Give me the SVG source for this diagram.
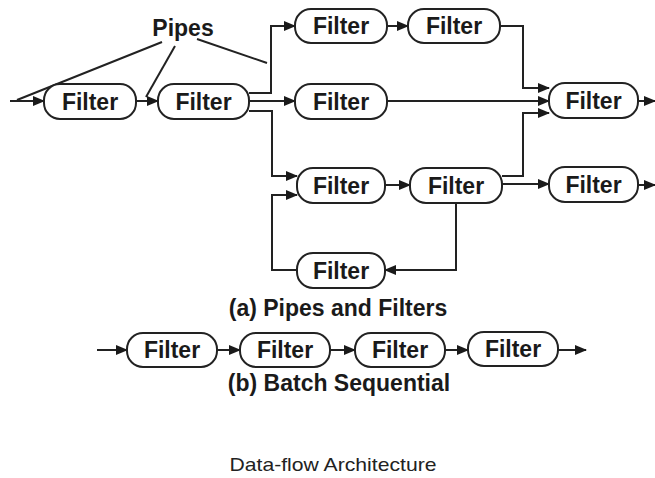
<svg xmlns="http://www.w3.org/2000/svg" width="655" height="478" viewBox="0 0 655 478">
<style>
.box{fill:#fff;stroke:#222;stroke-width:2}
.lbl{font-family:"Liberation Sans",Arial,sans-serif;font-weight:bold;font-size:23px;fill:#1a1a1a;text-anchor:middle;dominant-baseline:central}
.cap{font-family:"Liberation Sans",Arial,sans-serif;font-weight:bold;font-size:23px;fill:#1a1a1a;text-anchor:middle}
.title{font-family:"Liberation Sans",Arial,sans-serif;font-size:19px;fill:#222;text-anchor:middle}
.c{fill:none;stroke:#222;stroke-width:2}
.a{marker-end:url(#ah)}
</style>
<defs>
<marker id="ah" markerUnits="userSpaceOnUse" markerWidth="12" markerHeight="10" refX="11" refY="5" orient="auto">
<path d="M0,0 L12,5 L0,10 Z" fill="#1a1a1a"/>
</marker>
</defs>
<rect width="655" height="478" fill="#fff"/>

<g id="connectors">
<path class="c" d="M162,42 L17,100"/>
<path class="c" d="M175,46 L146,97"/>
<path class="c" d="M197,39 L267,63"/>
<path class="c a" d="M10,101 H44"/>
<path class="c a" d="M136,101 H158"/>
<path class="c a" d="M249,93 H271 V26 H295"/>
<path class="c a" d="M249,101 H295"/>
<path class="c a" d="M249,111 H272 V176 H297"/>
<path class="c a" d="M387,26 H408"/>
<path class="c a" d="M500,26 H523 V88 H549"/>
<path class="c a" d="M387,101 H549"/>
<path class="c a" d="M502,176 H523 V113 H549"/>
<path class="c a" d="M385,185 H410"/>
<path class="c a" d="M502,184 H549"/>
<path class="c a" d="M456,203 V270 H385"/>
<path class="c a" d="M297,270 H272 V195 H297"/>
<path class="c a" d="M638,101 H655"/>
<path class="c a" d="M638,185 H655"/>
<path class="c a" d="M97,350 H127"/>
<path class="c a" d="M217,350 H240"/>
<path class="c a" d="M330,350 H355"/>
<path class="c a" d="M445,350 H468"/>
<path class="c a" d="M558,350 H586"/>
</g>

<g id="n1"><rect class="box" x="44" y="84" width="92" height="35" rx="16"/><text class="lbl" x="90" y="101.5">Filter</text></g>
<g id="n2"><rect class="box" x="158" y="84" width="91" height="35" rx="16"/><text class="lbl" x="203.5" y="101.5">Filter</text></g>
<g id="n3"><rect class="box" x="295" y="9" width="92" height="34" rx="16"/><text class="lbl" x="341" y="26">Filter</text></g>
<g id="n4"><rect class="box" x="408" y="9" width="92" height="34" rx="16"/><text class="lbl" x="454" y="26">Filter</text></g>
<g id="n5"><rect class="box" x="295" y="84" width="92" height="35" rx="16"/><text class="lbl" x="341" y="101.5">Filter</text></g>
<g id="n6"><rect class="box" x="549" y="83" width="89" height="35" rx="16"/><text class="lbl" x="593.5" y="100.5">Filter</text></g>
<g id="n7"><rect class="box" x="297" y="168" width="88" height="35" rx="16"/><text class="lbl" x="341" y="185.5">Filter</text></g>
<g id="n8"><rect class="box" x="410" y="168" width="92" height="35" rx="16"/><text class="lbl" x="456" y="185.5">Filter</text></g>
<g id="n9"><rect class="box" x="549" y="167" width="89" height="35" rx="16"/><text class="lbl" x="593.5" y="184.5">Filter</text></g>
<g id="n10"><rect class="box" x="297" y="253" width="88" height="35" rx="16"/><text class="lbl" x="341" y="270.5">Filter</text></g>
<g id="b1"><rect class="box" x="127" y="333" width="90" height="34" rx="16"/><text class="lbl" x="172" y="350">Filter</text></g>
<g id="b2"><rect class="box" x="240" y="333" width="90" height="34" rx="16"/><text class="lbl" x="285" y="350">Filter</text></g>
<g id="b3"><rect class="box" x="355" y="333" width="90" height="34" rx="16"/><text class="lbl" x="400" y="350">Filter</text></g>
<g id="b4"><rect class="box" x="468" y="332" width="90" height="34" rx="16"/><text class="lbl" x="513" y="349">Filter</text></g>

<g id="labels">
<text class="cap" x="183" y="36">Pipes</text>
<text class="cap" x="338" y="316">(a) Pipes and Filters</text>
<text class="cap" x="339" y="391">(b) Batch Sequential</text>
<text class="title" x="333" y="471" textLength="207" lengthAdjust="spacingAndGlyphs">Data-flow Architecture</text>
</g>
</svg>
